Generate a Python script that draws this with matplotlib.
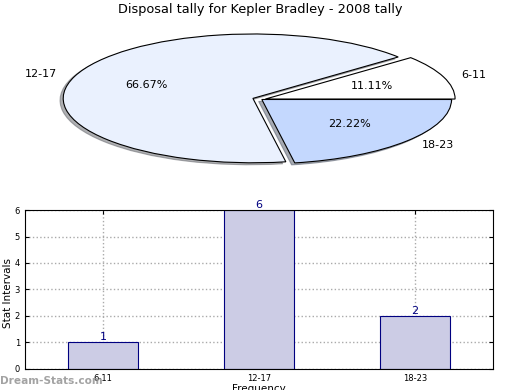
import matplotlib
matplotlib.use("Agg")
import matplotlib.pyplot as plt

categories = ["6-11", "12-17", "18-23"]
values = [1, 6, 2]
pie_colors = ["#FFFFFF", "#EAF1FE", "#C4D8FE"]
explode = [0.02, 0.05, 0.0]
title = "Disposal tally for Kepler Bradley - 2008 tally"

fig = plt.figure(figsize=(5.2, 3.9), dpi=100)

# Pie (stretched ellipse)
axp = fig.add_axes([0.0475, 0.5385, 0.912, 0.4128])
wedges, texts, autotexts = axp.pie(values, labels=categories, colors=pie_colors,
                                   explode=explode, autopct="%.2f%%",
                                   shadow=dict(ox=-0.012, oy=-0.022, shade=0.6),
                                   startangle=0, counterclock=True,
                                   wedgeprops=dict(edgecolor="black", linewidth=0.8),
                                   textprops=dict(fontsize=8))
axp.set_aspect("auto")
axp.set_xlim(-1.25, 1.25)
axp.set_ylim(-1.25, 1.25)
axp.axis("off")
fig.text(0.5, 1 - 10 / 390, title, ha="center", va="center", fontsize=9.3)

# Bar chart
axb = fig.add_axes([0.048, 0.054, 0.9, 0.4075])
x = list(range(len(categories)))
axb.bar(x, values, width=0.45, color="#CCCCE5", edgecolor="#000080", linewidth=0.8, zorder=2)
for xi, v in zip(x, values):
    axb.text(xi, v, str(v), ha="center", va="bottom", color="#000080", fontsize=8, zorder=4)
axb.set_xlim(-0.5, 2.5)
axb.set_ylim(0, 6)
axb.set_xticks(x)
axb.set_xticklabels(categories)
axb.set_yticks(range(0, 7))
axb.tick_params(axis="both", direction="in", labelsize=6, top=True, right=True, length=3)
axb.grid(True, linestyle=":", color="#AAAAAA", linewidth=1, zorder=3)
axb.set_ylabel("Stat Intervals", fontsize=7.5)
axb.yaxis.set_label_coords(-0.0245, 0.48)
axb.set_xlabel("Frequency", fontsize=7.5, labelpad=1)

fig.text(0.0, 1 - 381 / 390, "Dream-Stats.com", ha="left", va="center",
         fontsize=7.6, color="#999999", fontweight="bold", alpha=0.9)

fig.savefig("out.png", dpi=100)
